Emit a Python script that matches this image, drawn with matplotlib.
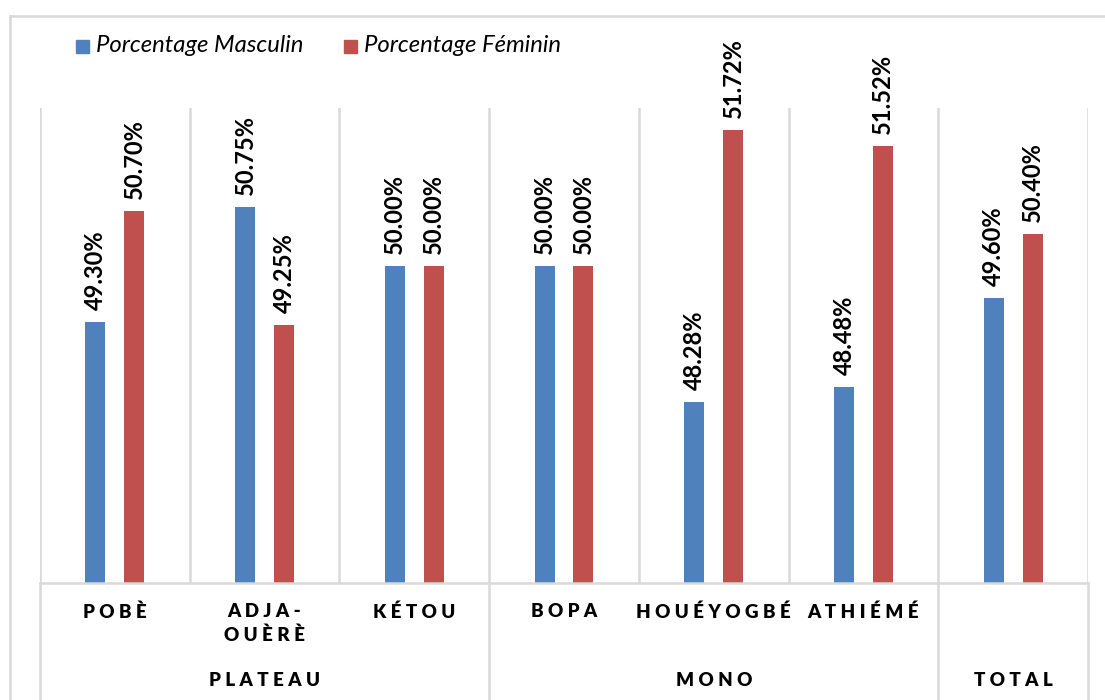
import numpy as np
import matplotlib
matplotlib.use("Agg")
import matplotlib.pyplot as plt
import matplotlib.patches as mpatches
from matplotlib.transforms import blended_transform_factory

plt.rcParams['font.family'] = ['Lato', 'DejaVu Sans']

categories = ["POBÈ", "ADJA-\nOUÈRÈ", "KÉTOU", "BOPA", "HOUÉYOGBÉ", "ATHIÉMÉ", ""]
groups = ["PLATEAU", "MONO", "TOTAL"]
group_sizes = [3, 3, 1]
masculin = [49.30, 50.75, 50.00, 50.00, 48.28, 48.48, 49.60]
feminin = [50.70, 49.25, 50.00, 50.00, 51.72, 51.52, 50.40]
series_names = ["Porcentage Masculin", "Porcentage Féminin"]

BLUE = "#4F81BD"
RED = "#C0504D"
GRID = "#D9D9D9"
W, H = 1105, 700


def fx(px):
    return px / W


def fy(py):
    return 1 - py / H


def spaced(s):
    return "\n".join(" ".join(line) for line in s.split("\n"))


fig = plt.figure(figsize=(W / 100, H / 100), dpi=100)

# outer chart frame (left + top edges visible)
fig.add_artist(plt.Line2D([fx(10), fx(10)], [fy(16), 0], color=GRID, lw=1.8))
fig.add_artist(plt.Line2D([fx(10), 1], [fy(16), fy(16)], color=GRID, lw=1.8))

ax = fig.add_axes([fx(40), 1 - 583 / H, (1088 - 40) / W, 475.4 / H])
ax.set_xlim(-0.5, 6.5)
ax.set_ylim(46, 52)
ax.axis("off")

x = np.arange(len(categories))
off, bw = 0.13, 0.134
b1 = ax.bar(x - off, masculin, bw, color=BLUE, zorder=3)
b2 = ax.bar(x + off, feminin, bw, color=RED, zorder=3)

for bars, vals in ((b1, masculin), (b2, feminin)):
    for rect, v in zip(bars, vals):
        ax.annotate(f"{v:.2f}%", (rect.get_x() + rect.get_width() / 2, v),
                    xytext=(0, 12), textcoords="offset pixels",
                    rotation=90, ha="center", va="bottom",
                    fontsize=17, fontweight="bold", color="black")

# gridlines between categories
for b in np.arange(-0.5, len(categories)):
    ax.axvline(b, color=GRID, lw=1.8, zorder=1)
ax.axhline(46, color=GRID, lw=1.8, clip_on=False, zorder=4)

trans = blended_transform_factory(ax.transData, ax.transAxes)
bounds = np.concatenate([[-0.5], np.cumsum(group_sizes) - 0.5])
for b in bounds:
    ax.plot([b, b], [0, -0.26], color=GRID, lw=1.8, transform=trans, clip_on=False)

for i, c in enumerate(categories):
    ax.text(i, (583 - 603) / 475.4, spaced(c), transform=trans, ha="center", va="top",
            fontsize=13.5, fontweight="heavy", linespacing=1.45)

for g, lo, hi in zip(groups, bounds[:-1], bounds[1:]):
    ax.text((lo + hi) / 2, (583 - 681) / 475.4, spaced(g), transform=trans,
            ha="center", va="center", fontsize=13.5, fontweight="heavy")

# legend
for name, col, sx in ((series_names[0], BLUE, 76), (series_names[1], RED, 344)):
    fig.add_artist(mpatches.Rectangle((fx(sx), fy(53)), fx(13), 13 / H,
                                      color=col, transform=fig.transFigure))
    fig.text(fx(sx + 20), fy(46), name, ha="left", va="center",
             fontsize=17.2, style="italic")

fig.savefig("out.png", dpi=100)
